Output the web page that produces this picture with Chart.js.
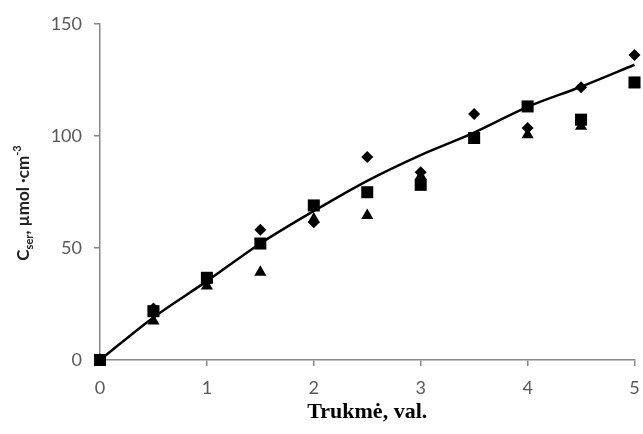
<!DOCTYPE html>
<html lang="lt">
<head>
  <meta charset="UTF-8">
  <title>Cser - trukmė</title>
  <script src="https://cdn.jsdelivr.net/npm/chart.js"></script>
  <style>
    body { margin: 0; background: #fff; }
    .wrap { width: 643px; height: 434px; }
  </style>
</head>
<body>
  <div class="wrap"><canvas id="grafikas" width="643" height="434"></canvas></div>

  <script>
    // duomenys nuskaityti nuo paveikslo
    const trukme = [0, 0.5, 1, 1.5, 2, 2.5, 3, 3.5, 4, 4.5, 5];
    const rombai = [0, 23, 35, 58.2, 61.5, 90.6, 83.8, 109.8, 103.6, 121.8, 136.2];
    const kvadratai = [0, 21.8, 36.7, 52, 69, 74.9, 78.2, 99.1, 113.2, 107.3, 123.9];
    const trikampiai = [0, 17.4, 33, 39.2, 63, 64.5, 82, 98, 100.6, 104.3, 123];
    const kreive = [0, 19, 35.2, 52, 66.5, 80, 91.5, 101.5, 113, 122, 131.8];
    const xTicks = [0, 1, 2, 3, 4, 5];
    const yTicks = [0, 50, 100, 150];

    const xTitle = 'Trukmė, val.';

    const taskai = arr => trukme.map((x, i) => ({ x: x, y: arr[i] }));

    // asiu pavadinimai (su indeksais)
    const pavadinimai = {
      id: 'pavadinimai',
      afterDraw(chart) {
        const { ctx, chartArea } = chart;
        ctx.save();
        ctx.fillStyle = '#000';
        ctx.font = 'bold 22px "Liberation Serif"';
        ctx.textAlign = 'center';
        ctx.textBaseline = 'alphabetic';
        ctx.fillText(xTitle, (chartArea.left + chartArea.right) / 2, 418);

        const dalys = [
          { t: 'C', f: 'bold 17px Lato', dy: 0 },
          { t: 'ser', f: 'bold 11px Lato', dy: 4 },
          { t: ', µmol ·cm', f: 'bold 17px Lato', dy: 0 },
          { t: '-3', f: 'bold 11px Lato', dy: -8 }
        ];
        let plotis = 0;
        dalys.forEach(d => { ctx.font = d.f; plotis += ctx.measureText(d.t).width; });
        ctx.fillStyle = '#222';
        ctx.translate(29, 203);
        ctx.rotate(-Math.PI / 2);
        ctx.textAlign = 'left';
        let x = -plotis / 2;
        dalys.forEach(d => {
          ctx.font = d.f;
          ctx.fillText(d.t, x, d.dy);
          x += ctx.measureText(d.t).width;
        });
        ctx.restore();
      }
    };

    const bendri = { showLine: false, clip: false, backgroundColor: '#000', borderColor: '#000', borderWidth: 0 };

    new Chart(document.getElementById('grafikas'), {
      type: 'scatter',
      data: {
        datasets: [
          { label: 'kreivė', data: taskai(kreive), showLine: true, borderColor: '#000', borderWidth: 2.5,
            pointRadius: 0, cubicInterpolationMode: 'monotone', clip: false, order: 0 },
          { ...bendri, label: 'rombai', data: taskai(rombai), pointStyle: 'rectRot', pointRadius: 6, order: 3 },
          { ...bendri, label: 'trikampiai', data: taskai(trikampiai), pointStyle: 'triangle', pointRadius: 7, order: 2 },
          { ...bendri, label: 'kvadratai', data: taskai(kvadratai), pointStyle: 'rect', pointRadius: 8.5, order: 1 }
        ]
      },
      options: {
        responsive: false,
        animation: false,
        layout: { padding: { top: 24, right: 8, left: 0, bottom: 0 } },
        plugins: { legend: { display: false }, tooltip: { enabled: false } },
        scales: {
          x: {
            type: 'linear', min: 0, max: 5,
            afterBuildTicks: s => { s.ticks = xTicks.map(v => ({ value: v })); },
            afterFit: s => { s.height = 74; s.paddingLeft = 0; s.paddingRight = 0; },
            border: { color: '#888', width: 1.5 },
            grid: { drawOnChartArea: false, drawTicks: true, tickLength: 6, color: '#888', lineWidth: 1.5 },
            ticks: { color: '#595959', font: { family: 'Lato', size: 18 }, padding: 11, maxRotation: 0 }
          },
          y: {
            min: 0, max: 150,
            afterBuildTicks: s => { s.ticks = yTicks.map(v => ({ value: v })); },
            afterFit: s => { s.width = 100; s.paddingTop = 0; s.paddingBottom = 0; },
            border: { color: '#888', width: 1.5 },
            grid: { drawOnChartArea: false, drawTicks: true, tickLength: 6, color: '#888', lineWidth: 1.5 },
            ticks: { color: '#595959', font: { family: 'Lato', size: 18 }, padding: 12 }
          }
        }
      },
      plugins: [pavadinimai]
    });
  </script>
</body>
</html>
